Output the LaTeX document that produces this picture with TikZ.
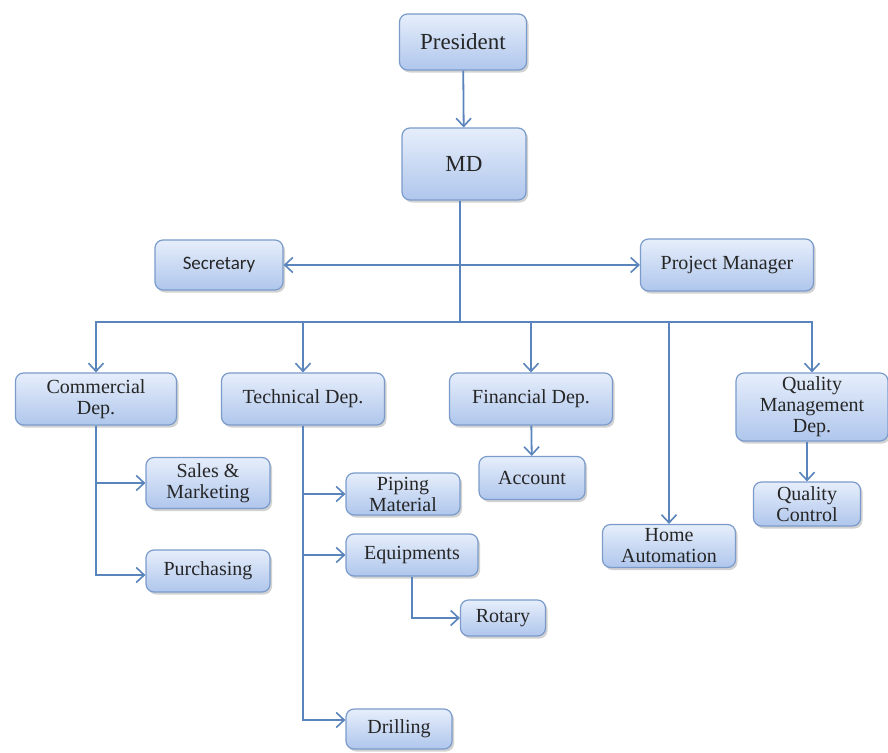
\documentclass[tikz,border=0pt]{standalone}
\usepackage{fontspec}
\setmainfont{Liberation Serif}
\newfontfamily\sansf{Carlito}
\usetikzlibrary{arrows.meta,shadows}
\definecolor{lineblue}{HTML}{5A84BC}
\definecolor{boxborder}{HTML}{7B9CCB}
\definecolor{boxtop}{HTML}{E6EEFB}
\definecolor{boxbot}{HTML}{AFC6EC}
\tikzset{
  box/.style={draw=boxborder, line width=1.2pt, rounded corners=8pt,
    top color=boxtop, bottom color=boxbot, align=center, inner sep=0pt,
    font=\fontsize{20}{21}\selectfont, text=black!85,
    drop shadow={opacity=0.35, shadow xshift=2pt, shadow yshift=-2.5pt}},
  bigbox/.style={box, font=\fontsize{23}{25}\selectfont},
  conn/.style={draw=lineblue, line width=1.8pt},
  arr/.style={conn, -{Straight Barb[length=8pt,width=15pt,line width=1.6pt]}},
  arr2/.style={conn, {Straight Barb[length=8pt,width=15pt,line width=1.6pt]}-{Straight Barb[length=8pt,width=15pt,line width=1.6pt]}}
}
\begin{document}
\begin{tikzpicture}[x=1pt,y=-1pt]
\useasboundingbox (0,0) rectangle (888,752);
\fill[white] (0,0) rectangle (888,752);
% nodes
\node[bigbox, minimum width=127pt, minimum height=56pt] (pres) at (463,42) {President};
\node[bigbox, minimum width=124pt, minimum height=72pt] (md) at (464,164) {MD};
\node[box, minimum width=128pt, minimum height=50pt, font=\sansf\fontsize{19}{21}\selectfont] (sec) at (219,265) {Secretary};
\node[box, minimum width=173pt, minimum height=52pt] (pm) at (727,265) {Project Manager};
\node[box, minimum width=161pt, minimum height=52pt] (comm) at (96,399) {Commercial\\Dep.};
\node[box, minimum width=163pt, minimum height=52pt] (tech) at (303,399) {Technical Dep.};
\node[box, minimum width=163pt, minimum height=52pt] (fin) at (531,399) {Financial Dep.};
\node[box, minimum width=152pt, minimum height=68pt] (qm) at (812,407) {Quality\\Management\\Dep.};
\node[box, minimum width=106pt, minimum height=43pt] (acc) at (532,478) {Account};
\node[box, minimum width=133pt, minimum height=43pt] (home) at (669,546) {Home\\Automation};
\node[box, minimum width=107pt, minimum height=44pt] (qc) at (807,504) {Quality\\Control};
\node[box, minimum width=124pt, minimum height=51pt] (sales) at (208,483) {Sales \&\\Marketing};
\node[box, minimum width=124pt, minimum height=42pt] (purch) at (208,571) {Purchasing};
\node[box, minimum width=114pt, minimum height=42pt] (pipe) at (403,494) {Piping\\Material};
\node[box, minimum width=132pt, minimum height=42pt] (equip) at (412,555) {Equipments};
\node[box, minimum width=85pt, minimum height=36pt] (rot) at (503,618) {Rotary};
\node[box, minimum width=106pt, minimum height=40pt] (drill) at (399,729) {Drilling};
\coordinate (bus) at (460,322);
% connectors
\draw[arr] (pres) -- (md);
\draw[conn] (md.south -| bus) -- (bus);
\draw[arr2] (sec.east) -- (pm.west);
\draw[arr] (bus) -| (comm.north);
\draw[arr] (bus) -| (tech.north);
\draw[arr] (bus) -| (fin.north);
\draw[arr] (bus) -| (home.north);
\draw[arr] (bus) -| (qm.north);
\draw[arr] (fin) -- (acc);
\draw[arr] (qm.south -| qc.north) -- (qc.north);
\draw[arr] (comm.south) |- (sales.west);
\draw[arr] (comm.south) |- ([yshift=-4pt]purch.west);
\draw[arr] (tech.south) |- (pipe.west);
\draw[arr] (tech.south) |- (equip.west);
\draw[arr] (tech.south) |- ([yshift=9pt]drill.west);
\draw[arr] (equip.south) |- (rot.west);
\end{tikzpicture}
\end{document}
